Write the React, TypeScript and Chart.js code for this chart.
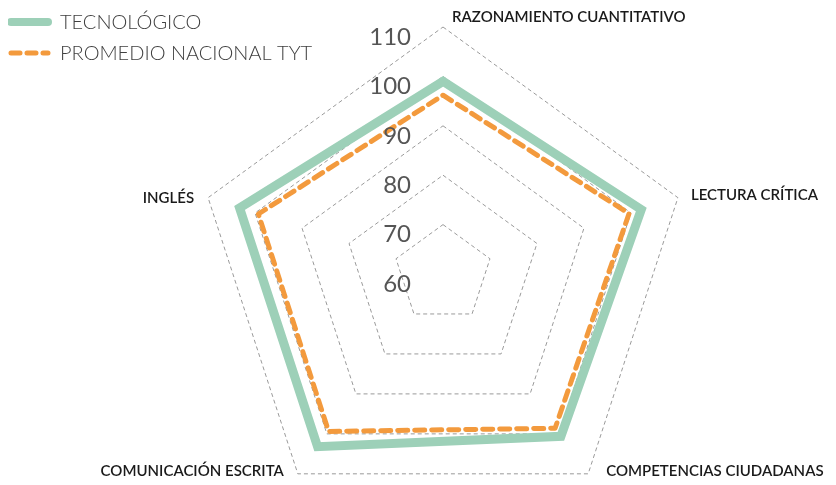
import React, { useEffect, useRef } from "react";
import { Chart, registerables } from "chart.js";

Chart.register(...registerables);

const categories = [
  "RAZONAMIENTO CUANTITATIVO",
  "LECTURA CRÍTICA",
  "COMPETENCIAS CIUDADANAS",
  "COMUNICACIÓN ESCRITA",
  "INGLÉS",
];
const tecnologico = [99, 102.2, 100.6, 103.2, 103.3];
const promedioNacional = [96.2, 99.6, 98.6, 99.4, 99.3];
const tickValues = [60, 70, 80, 90, 100, 110];
const seriesNames = ["TECNOLÓGICO", "PROMEDIO NACIONAL TYT"];

const GREEN = "#9dd0b8";
const ORANGE = "#f39a3d";
const RADIUS = 247;

// per-label text placement relative to outer vertex: [dx, dy, align]
const labelPlacement: [number, number, CanvasTextAlign][] = [
  [9, -10, "left"],
  [13, -3, "left"],
  [18, -3, "left"],
  [-14, -3, "right"],
  [-14, 0, "right"],
];

const customDraw = {
  id: "customDraw",
  afterLayout(chart: any) {
    const s = chart.scales.r;
    const a = chart.chartArea;
    s.drawingArea = RADIUS;
    s.xCenter = Math.floor((a.left + a.right) / 2);
    s.yCenter = a.top + RADIUS;
  },
  afterDraw(chart: any) {
    const ctx = chart.ctx;
    const scale = chart.scales.r;
    ctx.save();
    // tick labels
    ctx.font = "24px Lato";
    ctx.fillStyle = "#555555";
    ctx.textAlign = "right";
    ctx.textBaseline = "middle";
    tickValues.forEach((v) => {
      const d = scale.getDistanceFromCenterForValue(v);
      ctx.fillText(String(v), scale.xCenter - 32, scale.yCenter - d + 10);
    });
    // point labels
    ctx.font = "600 15px Lato";
    ctx.fillStyle = "#1a1a1a";
    categories.forEach((c, i) => {
      const p = scale.getPointPosition(i, scale.drawingArea);
      const [dx, dy, al] = labelPlacement[i];
      ctx.textAlign = al;
      ctx.fillText(c, p.x + dx, p.y + dy);
    });
    // legend
    const items = [
      { name: seriesNames[0], color: GREEN, width: 8, dash: [] as number[] },
      { name: seriesNames[1], color: ORANGE, width: 5, dash: [9, 7] },
    ];
    items.forEach((it, i) => {
      const y = 14 + i * 31;
      ctx.beginPath();
      ctx.lineCap = "round";
      ctx.lineWidth = it.width;
      ctx.strokeStyle = it.color;
      ctx.setLineDash(it.dash);
      ctx.moveTo(3, y);
      ctx.lineTo(40, y);
      ctx.stroke();
      ctx.setLineDash([]);
      ctx.font = "300 20px Lato";
      ctx.fillStyle = "#404040";
      ctx.textAlign = "left";
      ctx.fillText(it.name, 52, y + 1);
    });
    ctx.restore();
  },
};

export default function App() {
  const ref = useRef<HTMLCanvasElement>(null);
  useEffect(() => {
    if (!ref.current) return;
    const chart = new Chart(ref.current, {
      type: "radar",
      data: {
        labels: categories,
        datasets: [
          {
            label: seriesNames[0],
            data: tecnologico,
            borderColor: GREEN,
            borderWidth: 9,
            borderJoinStyle: "miter",
            fill: false,
            pointRadius: 0,
            order: 2,
          },
          {
            label: seriesNames[1],
            data: promedioNacional,
            borderColor: ORANGE,
            borderWidth: 5,
            borderDash: [10, 7],
            borderCapStyle: "round",
            borderJoinStyle: "round",
            fill: false,
            pointRadius: 0,
            order: 1,
          },
        ],
      },
      options: {
        responsive: false,
        animation: false,
        devicePixelRatio: 1,
        layout: { padding: { left: 188, right: 138, top: 19, bottom: 0 } },
        plugins: { legend: { display: false }, tooltip: { enabled: false } },
        scales: {
          r: {
            min: 60,
            max: 110,
            ticks: { stepSize: 10, display: false },
            pointLabels: { display: false },
            angleLines: { display: false },
            grid: { color: "#9a9a9a", lineWidth: 1 },
            border: { dash: [4, 3] },
          },
        },
      },
      plugins: [customDraw],
    });
    return () => chart.destroy();
  }, []);
  return (
    <div style={{ width: 820, height: 469 }}>
      <canvas ref={ref} width={820} height={469} style={{ display: "block" }} />
    </div>
  );
}
